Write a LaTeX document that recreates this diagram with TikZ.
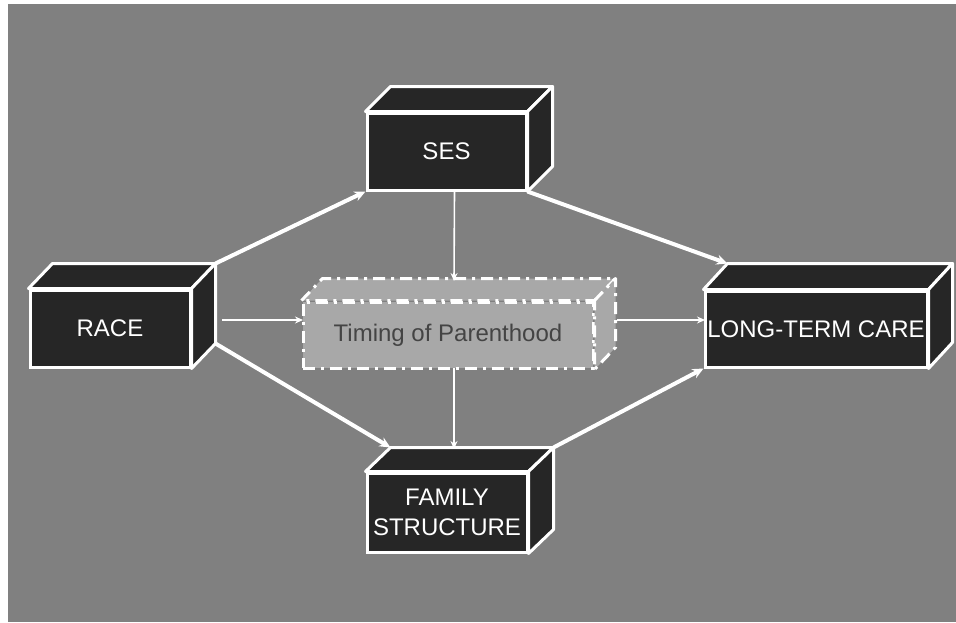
\documentclass[tikz,border=0pt]{standalone}
\usepackage{fontspec}
\setmainfont{Liberation Sans}
\usetikzlibrary{calc,arrows.meta}
\definecolor{bggray}{HTML}{808080}
\definecolor{boxdark}{HTML}{262626}
\definecolor{timfill}{HTML}{A8A8A8}
\definecolor{timtext}{HTML}{444444}
\tikzset{
  cube/.style={draw=white, line width=3pt, fill=boxdark, text=white, inner sep=0pt,
    font=\fontsize{24}{30}\selectfont, align=center},
  cubeside/.style={draw=white, line width=3pt, fill=boxdark, line join=round},
  timbox/.style={draw=white, line width=3pt, fill=timfill, text=timtext, inner sep=0pt,
    font=\fontsize{24}{30}\selectfont, dash pattern=on 12pt off 6pt on 3pt off 6pt},
  timside/.style={draw=white, line width=3pt, fill=timfill, line join=round,
    dash pattern=on 12pt off 6pt on 3pt off 6pt},
  thickarrow/.style={draw=white, line width=4pt, -{Stealth[length=11pt,width=10pt]}},
  thinarrow/.style={draw=white, line width=1.6pt, -{Stealth[length=8pt,width=7pt]}},
}
\begin{document}
\begin{tikzpicture}[x=1pt,y=-1pt]
\useasboundingbox (0,0) rectangle (956,622);
\fill[white] (0,0) rectangle (956,622);
\fill[bggray] (8,4) rectangle (956,622);

% SES
\node[cube, minimum width=159pt, minimum height=77pt] (ses) at (446.5,151.5) {SES};
\draw[cubeside] (ses.north west) -- ++(25,-25) -- ($(ses.north east)+(25,-25)$) -- (ses.north east) -- cycle;
\draw[cubeside] (ses.north east) -- ++(25,-25) -- ($(ses.south east)+(25,-25)$) -- (ses.south east) -- cycle;

% RACE
\node[cube, minimum width=160pt, minimum height=77pt] (race) at (110,328.5) {RACE};
\draw[cubeside] (race.north west) -- ++(24,-25) -- ($(race.north east)+(24,-25)$) -- (race.north east) -- cycle;
\draw[cubeside] (race.north east) -- ++(24,-25) -- ($(race.south east)+(24,-25)$) -- (race.south east) -- cycle;
\coordinate (raceBTR) at ($(race.north east)+(24,-25)$);
\coordinate (raceBBR) at ($(race.south east)+(24,-25)$);

% LONG-TERM CARE
\node[cube, minimum width=222pt, minimum height=76pt] (ltc) at (816,329) {LONG-TERM CARE};
\draw[cubeside] (ltc.north west) -- ++(24,-26) -- ($(ltc.north east)+(24,-26)$) -- (ltc.north east) -- cycle;
\draw[cubeside] (ltc.north east) -- ++(24,-26) -- ($(ltc.south east)+(24,-26)$) -- (ltc.south east) -- cycle;
\coordinate (ltcBTL) at ($(ltc.north west)+(24,-26)$);

% FAMILY STRUCTURE
\node[cube, minimum width=160pt, minimum height=79pt] (fam) at (447,512.5) {FAMILY\\STRUCTURE};
\draw[cubeside] (fam.north west) -- ++(25,-24) -- ($(fam.north east)+(25,-24)$) -- (fam.north east) -- cycle;
\draw[cubeside] (fam.north east) -- ++(25,-24) -- ($(fam.south east)+(25,-24)$) -- (fam.south east) -- cycle;
\coordinate (famBTL) at ($(fam.north west)+(25,-24)$);
\coordinate (famBTR) at ($(fam.north east)+(25,-24)$);

% Timing of Parenthood
\node[timbox, minimum width=290pt, minimum height=66pt] (tim) at (448,335) {Timing of Parenthood};
\draw[timside] (tim.north west) -- ++(21,-22) -- ($(tim.north east)+(21,-22)$) -- (tim.north east) -- cycle;
\draw[timside] (tim.north east) -- ++(21,-22) -- ($(tim.south east)+(21,-22)$) -- (tim.south east) -- cycle;

% connector helper coordinates
\coordinate (sesOut) at ($(ses.south)+(8,0)$);
\coordinate (timTop) at (454,281);
\coordinate (timBot) at (454,368);
\coordinate (famTop) at (454,449);
\coordinate (raceOut) at (222,320);
\coordinate (timIn) at (303,320);
\coordinate (timOut) at (617,320);
\coordinate (ltcIn) at (705,320);

% connectors
\draw[thickarrow] (raceBTR) -- (ses.south west);
\draw[thickarrow] (raceBBR) -- (famBTL);
\draw[thickarrow] (ses.south east) -- (ltcBTL);
\draw[thickarrow] (famBTR) -- (ltc.south west);
\draw[thinarrow] (sesOut) -- (timTop);
\draw[thinarrow] (timBot) -- (famTop);
\draw[thinarrow] (raceOut) -- (timIn);
\draw[thinarrow] (timOut) -- (ltcIn);
\end{tikzpicture}
\end{document}
